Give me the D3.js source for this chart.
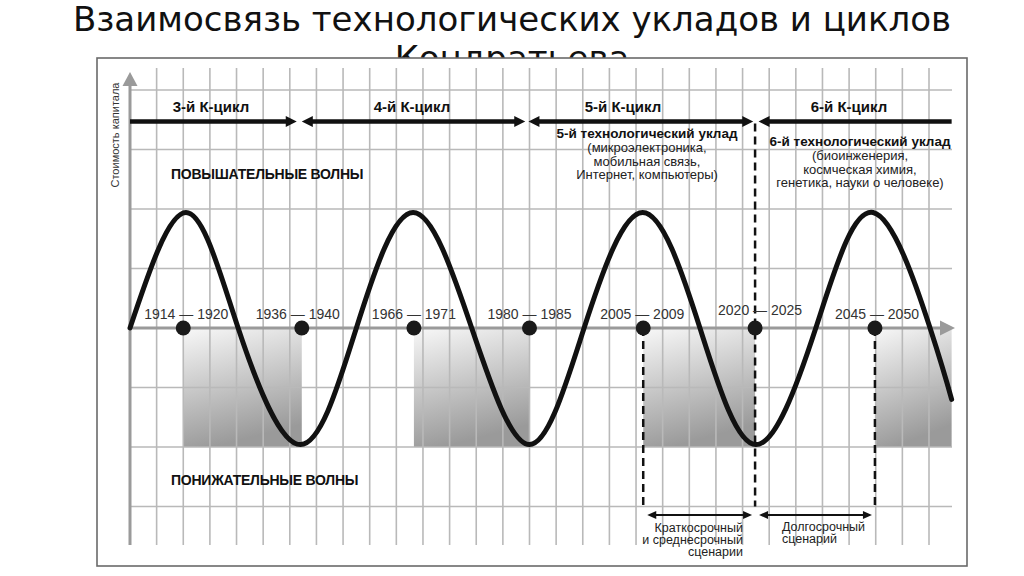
<!DOCTYPE html>
<html><head><meta charset="utf-8">
<script src="https://cdn.jsdelivr.net/npm/d3@7"></script>
<style>html,body{margin:0;padding:0;background:#fff;}svg{display:block;}</style>
</head><body>
<svg id="chart" width="1024" height="576"></svg>
<script>
// ---------- DATA ----------
const titleLines = ["Взаимосвязь технологических укладов и циклов", "Кондратьева"];
const yAxisLabel = "Стоимость капитала";
const gridCols = d3.range(0, 31);             // vertical grid (time units)
const gridRows = [2, 1.5, 1, 0.5, 0, -0.5, -1, -1.5]; // horizontal grid (value units)
// Long wave (capital value) key points: time unit -> value
const waveT = [0, 2.1, 4.06, 6.4, 8.5, 10.63, 12.83, 15.0, 17.05, 19.25, 21.4, 23.5, 25.75, 27.9, 30.04, 30.85];
const waveV = [0, 0.97, 0, -0.98, 0, 0.97, 0, -0.98, 0, 0.97, 0, -0.98, 0, 0.97, 0, -0.6];
// Turning points (dots) with period labels
const turnT = [2.0, 6.45, 10.66, 15.0, 19.27, 23.47, 27.97];
const turnLabels = ["1914 — 1920", "1936 — 1940", "1966 — 1971", "1980 — 1985", "2005 — 2009", "2020 — 2025", "2045 — 2050"];
// Shaded downswing periods
const shadeFrom = [2.0, 10.66, 19.27, 27.97];
const shadeTo   = [6.45, 15.0, 23.47, 30.85];
// Kondratiev cycles
const cycleNames = ["3-й К-цикл", "4-й К-цикл", "5-й К-цикл", "6-й К-цикл"];
const cycleStart = [0, 6.45, 14.96, 23.6];
const cycleEnd   = [6.26, 14.84, 23.4, 30.85];
const cycleArrowStart = [false, true, true, true];
const cycleArrowEnd   = [true, true, true, false];
// Wave phase labels
const phaseLabels = ["ПОВЫШАТЕЛЬНЫЕ ВОЛНЫ", "ПОНИЖАТЕЛЬНЫЕ ВОЛНЫ"];
// Technological paradigms
const techTitles = ["5-й технологический уклад", "6-й технологический уклад"];
const techLines = [["(микроэлектроника,", "мобильная связь,", "Интернет, компьютеры)"],
                   ["(биоинженерия,", "космческая химия,", "генетика, науки о человеке)"]];
// Scenarios
const scenarioFrom = [19.27, 23.47];
const scenarioTo   = [23.47, 27.97];
const scenarioText = [["Краткосрочный", "и среднесрочный", "сценарии"], ["Долгосрочный", "сценарий"]];
const dashedT = [19.27, 23.47, 27.97];

// ---------- LAYOUT ----------
const svg = d3.select("#chart");
const W = 1024, H = 576;
const x = d3.scaleLinear().domain([0, 30]).range([130, 929]);
const y = d3.scaleLinear().domain([-1.5, 2]).range([506.5, 90]);
const sans = "'Liberation Sans', Arial, Helvetica, sans-serif";

svg.append("rect").attr("width", W).attr("height", H).attr("fill", "#fff");

// title (second line is hidden under the picture frame)
svg.append("g").selectAll("text").data(titleLines).join("text")
  .attr("x", 512).attr("y", (d, i) => 31 + i * 39)
  .attr("text-anchor", "middle")
  .attr("font-family", "'DejaVu Sans', sans-serif")
  .attr("font-size", 34).attr("fill", "#111")
  .text(d => d);

// frame
svg.append("rect").attr("x", 97).attr("y", 58).attr("width", 870).attr("height", 508)
  .attr("fill", "#fff").attr("stroke", "#6a6a6a").attr("stroke-width", 1.6);

// gradient
const defs = svg.append("defs");
const grad = defs.append("linearGradient").attr("id", "shade")
  .attr("x1", 0).attr("y1", 0).attr("x2", 0.25).attr("y2", 1);
grad.append("stop").attr("offset", "0%").attr("stop-color", "#f8f8f8");
grad.append("stop").attr("offset", "100%").attr("stop-color", "#9a9a9a");

svg.append("g").selectAll("rect").data(shadeFrom).join("rect")
  .attr("x", d => x(d)).attr("y", y(0))
  .attr("width", (d, i) => x(shadeTo[i]) - x(d))
  .attr("height", y(-1) - y(0))
  .attr("fill", "url(#shade)");

// grid
const gridColor = "#b9b9b9";
svg.append("g").selectAll("line").data(gridCols.filter(d => d > 0)).join("line")
  .attr("x1", d => x(d)).attr("x2", d => x(d))
  .attr("y1", 68).attr("y2", 545)
  .attr("stroke", gridColor).attr("stroke-width", 1.6);
svg.append("g").selectAll("line").data(gridRows.filter(d => d !== 0)).join("line")
  .attr("x1", x(0)).attr("x2", 952)
  .attr("y1", d => y(d)).attr("y2", d => y(d))
  .attr("stroke", gridColor).attr("stroke-width", 1.6);

// axes
const axisColor = "#9a9a9a";
svg.append("line").attr("x1", x(0)).attr("x2", 942).attr("y1", y(0)).attr("y2", y(0))
  .attr("stroke", axisColor).attr("stroke-width", 3);
svg.append("path").attr("d", `M940,${y(0) - 7.5}L955,${y(0)}L940,${y(0) + 7.5}Z`).attr("fill", axisColor);
svg.append("line").attr("x1", x(0)).attr("x2", x(0)).attr("y1", 545).attr("y2", 84)
  .attr("stroke", axisColor).attr("stroke-width", 3);
svg.append("path").attr("d", `M${x(0) - 7.5},86L${x(0)},72L${x(0) + 7.5},86Z`).attr("fill", axisColor);

// y axis label
svg.append("text").attr("transform", `translate(119,135) rotate(-90)`)
  .attr("text-anchor", "middle").attr("font-family", sans).attr("font-size", 11)
  .attr("fill", "#333").text(yAxisLabel);

// K-cycles
const cycY = 121.5;
const cg = svg.append("g");
const cycLabelX = [211, 412, 623, 849];
cycleNames.forEach((name, i) => {
  const x0 = x(cycleStart[i]), x1 = x(cycleEnd[i]);
  const a0 = cycleArrowStart[i] ? x0 + 9 : x0, a1 = cycleArrowEnd[i] ? x1 - 9 : x1;
  cg.append("line").attr("x1", a0).attr("x2", a1).attr("y1", cycY).attr("y2", cycY)
    .attr("stroke", "#111").attr("stroke-width", 4.5);
  if (cycleArrowStart[i]) cg.append("path").attr("d", `M${x0},${cycY}L${x0 + 11},${cycY - 5.5}L${x0 + 11},${cycY + 5.5}Z`).attr("fill", "#111");
  if (cycleArrowEnd[i]) cg.append("path").attr("d", `M${x1},${cycY}L${x1 - 11},${cycY - 5.5}L${x1 - 11},${cycY + 5.5}Z`).attr("fill", "#111");
  cg.append("text").attr("x", cycLabelX[i]).attr("y", 112)
    .attr("text-anchor", "middle").attr("font-family", sans).attr("font-weight", "bold")
    .attr("font-size", 15).attr("fill", "#111").text(name);
});

// phase labels
svg.append("g").selectAll("text").data(phaseLabels).join("text")
  .attr("x", 171).attr("y", (d, i) => i === 0 ? 179 : 485)
  .attr("font-family", sans).attr("font-weight", "bold").attr("font-size", 14)
  .attr("letter-spacing", -0.25).attr("fill", "#111").text(d => d);

// technological paradigms
const techX = [647, 860], techY = [138, 146];
techTitles.forEach((t, i) => {
  const g = svg.append("g").attr("font-family", sans).attr("fill", "#111").attr("text-anchor", "middle");
  g.append("text").attr("x", techX[i]).attr("y", techY[i]).attr("font-weight", "bold").attr("font-size", 13.5).text(t);
  g.selectAll("text.l").data(techLines[i]).join("text").attr("class", "l")
    .attr("x", techX[i]).attr("y", (d, j) => techY[i] + 14 + j * 13.5)
    .attr("font-size", 13).attr("fill", "#222").text(d => d);
});

// dashed lines
svg.append("g").selectAll("line").data(dashedT).join("line")
  .attr("x1", d => x(d)).attr("x2", d => x(d))
  .attr("y1", (d, i) => i === 1 ? cycY + 2 : y(0)).attr("y2", y(-1.5))
  .attr("stroke", "#111").attr("stroke-width", 2.5).attr("stroke-dasharray", "8,5");

// wave
const pts = waveT.map((t, i) => [x(t), y(waveV[i])]);
svg.append("path").attr("d", d3.line().curve(d3.curveNatural)(pts))
  .attr("fill", "none").attr("stroke", "#111").attr("stroke-width", 5).attr("stroke-linecap", "round");

// turning points
svg.append("g").selectAll("circle").data(turnT).join("circle")
  .attr("cx", d => x(d)).attr("cy", y(0)).attr("r", 7.5).attr("fill", "#1a1a1a");
svg.append("g").selectAll("text").data(turnLabels).join("text")
  .attr("x", (d, i) => x(turnT[i]) + [3, -4, 0, 0, -1, 5, 2][i]).attr("y", (d, i) => i === 5 ? 315 : 319)
  .attr("text-anchor", "middle").attr("font-family", sans).attr("font-size", 14)
  .attr("fill", "#333").text(d => d);

// scenarios
const scY = 515;
scenarioFrom.forEach((t0, i) => {
  const x0 = x(t0) + 4, x1 = x(scenarioTo[i]) - 3;
  svg.append("line").attr("x1", x0 + 6).attr("x2", x1 - 6).attr("y1", scY).attr("y2", scY)
    .attr("stroke", "#111").attr("stroke-width", 2);
  svg.append("path").attr("d", `M${x0},${scY}L${x0 + 9},${scY - 4}L${x0 + 9},${scY + 4}Z`).attr("fill", "#111");
  svg.append("path").attr("d", `M${x1},${scY}L${x1 - 9},${scY - 4}L${x1 - 9},${scY + 4}Z`).attr("fill", "#111");
  const right = i === 0;
  svg.append("g").selectAll("text").data(scenarioText[i]).join("text")
    .attr("x", right ? 743 : 782).attr("y", (d, j) => (right ? 532 : 531) + j * 12)
    .attr("text-anchor", right ? "end" : "start")
    .attr("font-family", sans).attr("font-size", 12.5).attr("fill", "#222").text(d => d);
});
</script>
</body></html>
